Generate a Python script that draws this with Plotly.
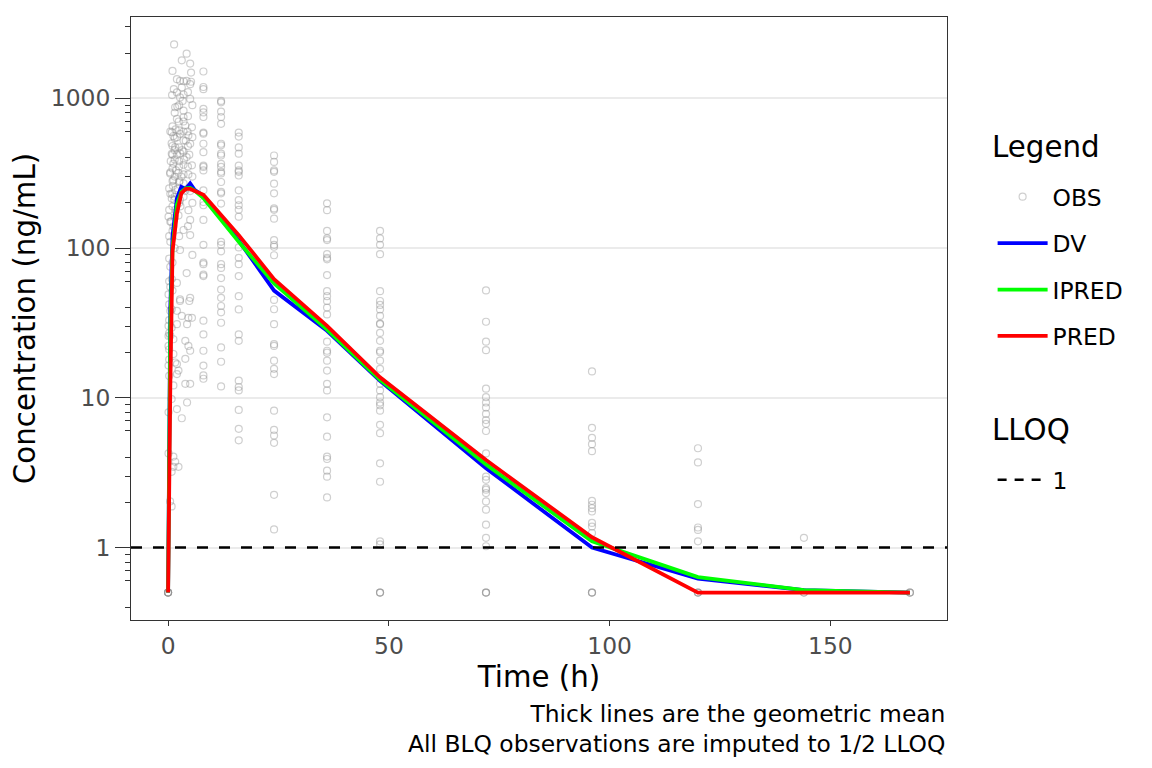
import math
import plotly.graph_objects as go

# ---------------- data ----------------
LLOQ = 1

nominal_time = [0, 0.25, 0.5, 1, 2, 3, 4, 5, 6, 8, 12, 16, 24, 36, 48, 72, 96, 120, 144, 168]
gm_dv = [0.5, 8, 40, 120, 214, 256, 248, 270, 245, 222, 157, 112, 52, 28, 13.0, 3.38, 1.0, 0.62, 0.52, 0.5]
gm_ipred = [0.5, 6, 30, 100, 195, 237, 250, 252, 242, 216, 154, 110, 58, 28.5, 13.2, 3.59, 1.10, 0.635, 0.52, 0.5]
gm_pred = [0.5, 3, 12, 95, 170, 232, 248, 248, 242, 227, 166, 122, 62, 30.2, 13.7, 3.84, 1.17, 0.5, 0.5, 0.5]

# early observations (actual sampling times 0-6 h)
early_time = [1.36, 4.2, 3.1, 5.0, 1.0, 5.2, 2.0, 2.7, 4.2, 5.2, 3.1, 5.0, 2.0, 3.5, 2.7, 5.0,
              1.6, 3.5, 2.0, 3.5, 3.9, 5.4, 0.83, 2.7, 4.6, 2.0, 3.5, 1.6, 5.0, 0.83, 2.7, 4.2,
              1.2, 3.5, 5.4, 0.45, 2.35, 4.6, 1.2, 3.5, 1.6, 5.0, 0.83, 2.7, 4.6, 0.1, 2.35, 5.0,
              1.2, 3.5, 5.0, 2.7, 4.2, 0.83, 2.0, 0.1, 2.7, 5.0, 0.83,
              0.5, 1.0, 1.5, 2.0, 2.5, 3.0, 1.2, 0.8, 2.2, 3.2, 4.0, 1.8, 2.6, 0.6, 1.4, 3.8,
              4.4, 2.8, 1.1, 0.9, 2.4, 3.6, 4.8, 0.7, 1.6, 1.3, 2.1, 3.3, 0.9, 1.7,
              2.7, 4.8, 2.0, 3.1, 4.6, 5.4, 4.3, 0.1, 0.8, 2.0, 0.1, 1.2, 3.9, 4.6, 5.0, 0.1,
              1.2, 3.9, 2.0, 0.1, 1.6, 2.35, 2.0, 1.2, 3.9, 5.0, 0.8, 4.3, 0.1, 2.0, 3.1,
              0.1, 1.2, 1.6, 1.2, 2.35, 0.8, 0.45, 0.8,
              0.25, 0.25, 0.25, 0.25, 0.25, 0.25, 0.25, 0.25, 0.25, 0.25, 0.25,
              0.5, 0.5, 0.5, 0.5, 0.5, 0.5, 0.5, 0.5,
              1.0, 1.0, 1.0, 1.0, 1.0, 1.0, 1.0, 1.0,
              1.5, 1.5, 1.5, 1.5, 1.5, 1.5, 1.5,
              2.5, 2.5, 2.5, 2.5, 2.5, 2.5, 2.5,
              3.5, 3.5, 3.5, 3.5, 3.5, 3.5,
              4.5, 4.5, 4.5, 4.5, 4.5, 4.5,
              5.5, 5.5, 5.5, 5.5, 5.5,
              0, 0, 0, 0, 0]
early_conc = [2290, 1986, 1794, 1705, 1524, 1485, 1342, 1309, 1309, 1290, 1181, 1243, 1094, 1060, 1014, 990,
              871, 827, 728, 747, 658, 640, 594, 579, 565, 550, 523, 472, 497, 426, 430, 405,
              366, 360, 357, 314, 318, 310, 284, 270, 244, 240, 214, 209, 179, 162, 165, 154,
              139, 132, 122, 97, 68, 62, 58.5, 49, 45.4, 46.5, 39,
              600, 480, 390, 420, 350, 300, 560, 500, 250, 450, 520, 330, 280, 380, 210, 240,
              600, 190, 260, 230, 700, 390, 420, 150, 180, 1150, 880, 960, 1050, 620,
              44.3, 44.3, 38.1, 35.2, 34.2, 34.2, 31, 30.2, 29.4, 31, 25.9, 24.6, 24.0, 22.2, 20.6, 22.2,
              19.6, 18.2, 16.8, 16.4, 17.2, 15.2, 14.4, 12.1, 12.4, 12.4, 9.8, 9.3, 8.0, 8.4, 7.3,
              4.25, 4.05, 3.74, 3.46, 3.46, 3.2, 2.03, 1.88,
              250, 180, 120, 85, 60, 42, 33, 27, 21, 18, 14,
              320, 230, 150, 110, 75, 55, 38, 26,
              650, 420, 340, 280, 190, 130, 80, 52,
              800, 540, 450, 300, 220, 160, 100,
              900, 610, 470, 380, 275, 200, 120,
              1300, 700, 600, 440, 310, 220,
              1100, 760, 480, 350, 250, 140,
              900, 550, 300, 200, 90,
              0.5, 0.5, 0.5, 0.5, 0.5]

obs_8h = [1510, 1190, 1150, 850, 805, 750, 590, 580, 497, 437, 355, 348, 330, 243, 203, 193, 154, 105,
          80, 78, 66.4, 65, 32.7, 26.5, 20.6, 16.4, 14.1, 13.4]
obs_12h = [960, 940, 815, 750, 675, 497, 485, 427, 415, 365, 348, 323, 315, 276, 237, 232, 198, 110,
           105, 95, 78, 73.6, 63, 52.8, 46.5, 41, 37.2, 31.7, 21.7, 17.4, 11.9]
obs_16h = [590, 555, 470, 427, 355, 330, 323, 305, 243, 209, 193, 180, 162, 101, 86, 78, 65, 47.7,
           38.9, 26.5, 24, 13, 11.8, 11.2, 8.3, 6.2, 5.2]
obs_24h = [415, 376, 330, 323, 269, 232, 184, 180, 157, 113, 105, 102, 89.5, 45, 39, 31, 22.8, 22.2,
           17.7, 15.6, 14.4, 8.2, 6.1, 5.6, 5.0, 2.25, 1.32]
obs_36h = [199, 179, 130, 116, 113, 91, 86, 84, 66, 51.5, 47.7, 44.3, 40, 36, 23.7, 20.6, 20.0, 17.7,
           15.2, 12.4, 11.2, 7.4, 5.5, 4.05, 3.9, 3.26, 2.97, 2.16]
obs_48h = [130, 116, 105, 91, 51.5, 44.3, 41.7, 38.9, 35.2, 31.3, 31, 27.1, 24, 20.6, 20.1, 17.7, 15.6,
           12.4, 11.2, 10.1, 9.3, 8.9, 8.2, 6.6, 5.8, 3.65, 2.75, 1.10, 1.05, 0.5, 0.5, 0.5]
obs_72h = [52.1, 32.2, 23.7, 20.8, 11.5, 10.1, 9.3, 8.6, 7.8, 7.1, 6.7, 6.0, 4.25, 3.65, 2.97, 2.83,
           2.49, 2.43, 2.31, 2.03, 1.79, 1.42, 1.16, 1.02, 0.5, 0.5, 0.5]
obs_96h = [15, 6.3, 5.4, 4.9, 4.4, 2.05, 1.93, 1.83, 1.74, 1.46, 1.38, 1.25, 0.5, 0.5, 0.5]
obs_120h = [4.6, 3.7, 1.95, 1.36, 1.31, 1.10, 0.5, 0.5, 0.5]
obs_144h = [1.16, 0.5, 0.5]
obs_168h = [0.5, 0.5, 0.5]

later_times = [8, 12, 16, 24, 36, 48, 72, 96, 120, 144, 168]
later_obs = [obs_8h, obs_12h, obs_16h, obs_24h, obs_36h, obs_48h, obs_72h, obs_96h,
             obs_120h, obs_144h, obs_168h]

y_tick_vals = [1, 10, 100, 1000]
x_tick_vals = [0, 50, 100, 150]
caption_lines = ["Thick lines are the geometric mean", "All BLQ observations are imputed to 1/2 LLOQ"]
legend_titles = ["Legend", "LLOQ"]

# ---------------- build ----------------
obs_x = list(early_time)
obs_y = list(early_conc)
for t, vals in zip(later_times, later_obs):
    obs_x += [t] * len(vals)
    obs_y += list(vals)

FONT = "DejaVu Sans"
TITLE_SIZE = 29.3
TEXT_SIZE = 23.4
fig = go.Figure()

fig.add_trace(go.Scatter(
    x=obs_x, y=obs_y, mode="markers", name="OBS", legendgroup="g1",
    marker=dict(symbol="circle-open", size=7, color="rgba(140,140,140,0.42)",
                line=dict(width=1.2)),
    legend="legend"))
for name, vals, col, grp in [("DV", gm_dv, "#0000FF", "g2"), ("IPRED", gm_ipred, "#00FF00", "g3"),
                             ("PRED", gm_pred, "#FF0000", "g4")]:
    fig.add_trace(go.Scatter(x=nominal_time, y=vals, mode="lines", name=name, legendgroup=grp,
                             line=dict(color=col, width=3.8), legend="legend"))

fig.add_hline(y=LLOQ, line=dict(color="black", width=2.6, dash="11px,11px"), layer="above")
fig.add_trace(go.Scatter(x=[None], y=[None], mode="lines", name=str(LLOQ),
                         line=dict(color="black", width=2.6, dash="9px,8px"), legend="legend2"))

all_x = obs_x + nominal_time
all_y = obs_y + gm_dv + gm_ipred + gm_pred
xmin, xmax = min(all_x), max(all_x)
xr = xmax - xmin
lmin, lmax = math.log10(min(all_y)), math.log10(max(all_y))
lr = lmax - lmin

minor_vals = [m * 10 ** k for k in range(-1, 4) for m in range(2, 10) if m != 5]
mid_vals = [5 * 10 ** k for k in range(-1, 4)]

annotations = [dict(text="<br>".join(caption_lines), xref="paper", yref="paper", x=1, y=-0.181,
                    xanchor="right", yanchor="middle", align="right", showarrow=False,
                    font=dict(size=TEXT_SIZE, color="black")),
               dict(text=legend_titles[0], xref="paper", yref="paper", x=1.0527, y=0.7844,
                    xanchor="left", yanchor="middle", showarrow=False,
                    font=dict(size=TITLE_SIZE, color="black")),
               dict(text=legend_titles[1], xref="paper", yref="paper", x=1.0527, y=0.3151,
                    xanchor="left", yanchor="middle", showarrow=False,
                    font=dict(size=TITLE_SIZE, color="black"))]

fig.update_layout(
    width=1152, height=768,
    margin=dict(l=123, r=213, t=9, b=156, autoexpand=False),
    paper_bgcolor="white", plot_bgcolor="white",
    font=dict(family=FONT, color="black"),
    showlegend=True,
    xaxis=dict(range=[xmin - 0.05 * xr, xmax + 0.05 * xr], tickvals=x_tick_vals,
               showgrid=False, zeroline=False, showline=True, mirror=True,
               linecolor="#333333", linewidth=1, ticks="outside", ticklen=5, tickwidth=1.3,
               tickcolor="#333333", tickfont=dict(size=TEXT_SIZE, color="#4d4d4d"),
               title=dict(text="Time (h)", font=dict(size=TITLE_SIZE), standoff=4)),
    yaxis=dict(type="log", range=[lmin - 0.05 * lr, lmax + 0.05 * lr], tickvals=y_tick_vals,
               ticktext=[str(v) for v in y_tick_vals],
               showgrid=True, gridcolor="#ebebeb", gridwidth=1.8, zeroline=False,
               showline=True, mirror=True, linecolor="#333333", linewidth=1,
               ticks="outside", ticklen=15, tickwidth=1.4, tickcolor="#333333",
               tickfont=dict(size=TEXT_SIZE, color="#4d4d4d"),
               minor=dict(tickvals=minor_vals, ticks="outside", ticklen=5, tickwidth=1.4,
                          tickcolor="#333333", showgrid=False),
               title=dict(text="Concentration (ng/mL)", font=dict(size=TITLE_SIZE), standoff=12)),
    yaxis2=dict(type="log", overlaying="y", side="left", range=[lmin - 0.05 * lr, lmax + 0.05 * lr],
                tickvals=mid_vals, showticklabels=False, ticks="outside", ticklen=10,
                tickwidth=1.4, tickcolor="#333333", showgrid=False, zeroline=False,
                showline=False),
    legend=dict(x=1.0559, y=0.738, xanchor="left", yanchor="top", tracegroupgap=13,
                font=dict(size=TEXT_SIZE), bgcolor="rgba(0,0,0,0)", itemwidth=50),
    legend2=dict(x=1.0559, y=0.2686, xanchor="left", yanchor="top",
                 font=dict(size=TEXT_SIZE), bgcolor="rgba(0,0,0,0)", itemwidth=50),
    annotations=annotations,
)

fig.write_html("out.html")
